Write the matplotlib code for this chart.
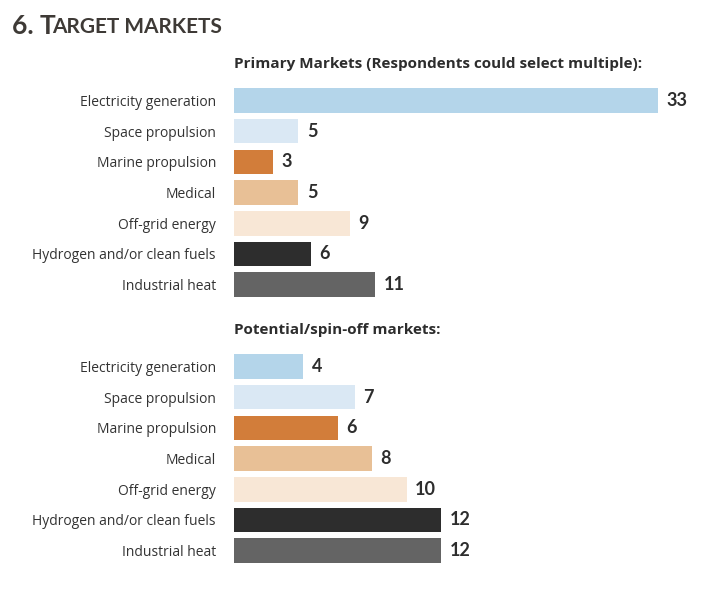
import matplotlib.pyplot as plt

categories = ["Electricity generation", "Space propulsion", "Marine propulsion", "Medical",
              "Off-grid energy", "Hydrogen and/or clean fuels", "Industrial heat"]
primary = [33, 5, 3, 5, 9, 6, 11]
potential = [4, 7, 6, 8, 10, 12, 12]
colors = ["#b4d5ea", "#dae8f4", "#d27d3a", "#e8c096", "#f8e7d6", "#2d2d2d", "#646464"]

W, H = 710, 594
fig = plt.figure(figsize=(W / 100, H / 100), dpi=100)


def panel(top_px, values, xmax, title):
    ax = fig.add_axes([234 / W, 1 - (top_px + 215) / H, 424 / W, 215 / H])
    y = list(range(len(values)))
    ax.barh(y, values, height=0.8, color=colors)
    ax.set_ylim(len(values) - 0.5, -0.5)
    ax.set_xlim(0, xmax)
    ax.set_yticks(y)
    ax.set_yticklabels(categories, fontsize=10, color="#333333", family="Open Sans")
    ax.tick_params(length=0, pad=13)
    ax.set_xticks([])
    for s in ax.spines.values():
        s.set_visible(False)
    for yi, v in zip(y, values):
        ax.text(v + xmax * 0.02, yi, str(v), va="center", ha="left",
                fontsize=13, fontweight="bold", color="#2d2d2d", family="Lato")
    ax.text(0, -0.95, title, ha="left", va="bottom", fontsize=11,
            fontweight="bold", color="#2d2d2d", family="Open Sans")


panel(85, primary, 33, "Primary Markets (Respondents could select multiple):")
panel(351, potential, 424 / 17.25, "Potential/spin-off markets:")

fig.text(12 / W, 1 - 26 / H, "6. T", fontsize=19, fontweight="bold", color="#3e3a36",
         va="center", family="Lato")
fig.text(52 / W, 1 - 27 / H, "ARGET MARKETS", fontsize=15, fontweight="bold",
         color="#3e3a36", va="center", family="Lato")

fig.savefig("out.png", dpi=100)
